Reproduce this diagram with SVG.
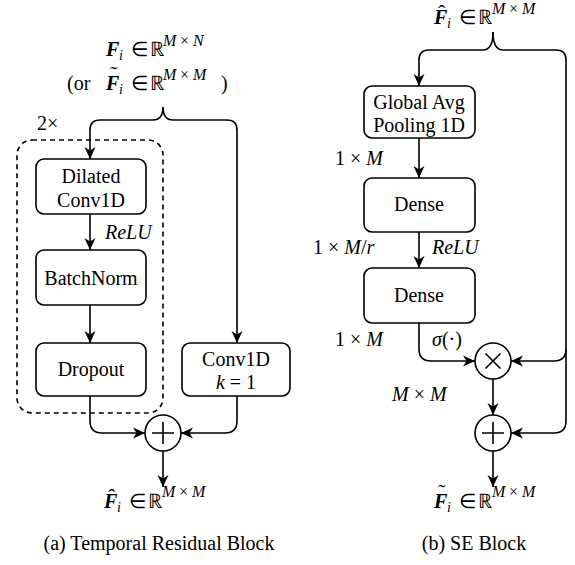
<svg xmlns="http://www.w3.org/2000/svg" width="575" height="565" viewBox="0 0 575 565">
<defs>
<marker id="ah" viewBox="0 0 12 12" refX="12" refY="6" markerWidth="12" markerHeight="12" markerUnits="userSpaceOnUse" orient="auto">
<path d="M0,0.5 L12,6 L0,11.5 L3.5,6 Z" fill="#000"/>
</marker>
</defs>
<style>
.box{fill:#fff;stroke:#000;stroke-width:1.6}
.ln{fill:none;stroke:#000;stroke-width:1.6}
.arr{fill:none;stroke:#000;stroke-width:1.6;marker-end:url(#ah)}
.dash{fill:none;stroke:#000;stroke-width:1.6;stroke-dasharray:5 4}
text{font-family:'Liberation Serif',serif;font-size:20px;fill:#000}
.c{text-anchor:middle}
.it{font-style:italic}
.bi{font-style:italic;font-weight:bold}
.sub{font-style:italic;font-size:14px}
.sup{font-size:16px}
.acc{font-size:22px}
</style>
<rect width="575" height="565" fill="#fff"/>

<g id="connectors">
<path class="arr" d="M163,107 Q163,120 153,120 L100,120 Q90,120 90,130 L90,159"/>
<path class="arr" d="M163,107 Q163,120 173,120 L227,120 Q237,120 237,130 L237,343"/>
<path class="arr" d="M90,214 L90,250"/>
<path class="arr" d="M90,305 L90,343"/>
<path class="arr" d="M90,396 L90,421 Q90,433 102,433 L145,433"/>
<path class="arr" d="M237,396 L237,421 Q237,433 225,433 L181,433"/>
<path class="arr" d="M163,451 L163,487"/>
<path class="arr" d="M493,32 Q493,50 483,50 L429,50 Q419,50 419,60 L419,86"/>
<path class="ln" d="M493,32 Q493,50 503,50 L556,50 Q566,50 566,60 L566,421"/>
<path class="arr" d="M566,349 Q566,361 554,361 L511,361"/>
<path class="arr" d="M566,421 Q566,433 554,433 L511,433"/>
<path class="arr" d="M419,138 L419,178"/>
<path class="arr" d="M419,232 L419,268"/>
<path class="arr" d="M419,323 L419,349 Q419,361 431,361 L475,361"/>
<path class="arr" d="M493,379 L493,415"/>
<path class="arr" d="M493,451 L493,487"/>
</g>

<g id="repeat-group">
<rect class="dash" x="17" y="140" width="146" height="273" rx="15"/>
<text x="37" y="130">2×</text>
</g>

<g id="input-left">
<text><tspan class="bi" x="106" y="56">F</tspan><tspan class="sub" x="119" y="60">i</tspan><tspan x="131" y="56">∈</tspan><tspan x="150" y="56">ℝ</tspan><tspan class="sup it" x="163" y="46">M</tspan><tspan class="sup" x="180" y="46">×</tspan><tspan class="sup it" x="193" y="46">N</tspan></text>
<text><tspan x="67" y="90">(or</tspan><tspan class="bi" x="106" y="90">F</tspan><tspan class="sub" x="119" y="94">i</tspan><tspan x="131" y="90">∈</tspan><tspan x="150" y="90">ℝ</tspan><tspan class="sup it" x="163" y="80">M</tspan><tspan class="sup" x="180" y="80">×</tspan><tspan class="sup it" x="193" y="80">M</tspan><tspan x="221" y="90">)</tspan></text>
<text class="acc" x="110" y="81">˜</text>
</g>

<g id="dilated-conv">
<rect class="box" x="36" y="159" width="110" height="55" rx="8"/>
<text class="c" x="91" y="183">Dilated</text>
<text class="c" x="91" y="207">Conv1D</text>
</g>
<text class="it" x="105" y="239">ReLU</text>

<g id="batchnorm">
<rect class="box" x="36" y="250" width="110" height="55" rx="8"/>
<text class="c" x="91" y="285">BatchNorm</text>
</g>

<g id="dropout">
<rect class="box" x="36" y="343" width="110" height="53" rx="8"/>
<text class="c" x="91" y="376">Dropout</text>
</g>

<g id="conv1d-k1">
<rect class="box" x="182" y="343" width="108" height="53" rx="8"/>
<text class="c" x="236" y="366">Conv1D</text>
<text class="c" x="236" y="389"><tspan class="it">k</tspan> = 1</text>
</g>

<g id="sum-left">
<circle class="box" cx="163" cy="433" r="18"/>
<path class="ln" d="M152,433 L174,433 M163,422 L163,444"/>
</g>

<g id="output-left">
<text><tspan class="bi" x="104" y="508">F</tspan><tspan class="sub" x="117" y="512">i</tspan><tspan x="129" y="508">∈</tspan><tspan x="148" y="508">ℝ</tspan><tspan class="sup it" x="162" y="497">M</tspan><tspan class="sup" x="179" y="497">×</tspan><tspan class="sup it" x="192" y="497">M</tspan></text>
<text class="acc" x="108" y="504">ˆ</text>
</g>

<text class="c" x="159" y="550">(a) Temporal Residual Block</text>

<g id="input-right">
<text><tspan class="bi" x="434" y="24">F</tspan><tspan class="sub" x="447" y="28">i</tspan><tspan x="459" y="24">∈</tspan><tspan x="478" y="24">ℝ</tspan><tspan class="sup it" x="492" y="14">M</tspan><tspan class="sup" x="509" y="14">×</tspan><tspan class="sup it" x="522" y="14">M</tspan></text>
<text class="acc" x="438" y="20">ˆ</text>
</g>

<g id="global-avg-pool">
<rect class="box" x="364" y="86" width="111" height="52" rx="8"/>
<text class="c" x="419" y="109">Global Avg</text>
<text class="c" x="419" y="132">Pooling 1D</text>
</g>
<text x="335" y="165">1 × <tspan class="it">M</tspan></text>

<g id="dense1">
<rect class="box" x="364" y="178" width="111" height="54" rx="8"/>
<text class="c" x="419" y="211">Dense</text>
</g>
<text x="313" y="254">1 × <tspan class="it">M</tspan>/<tspan class="it">r</tspan></text>
<text class="it" x="432" y="254">ReLU</text>

<g id="dense2">
<rect class="box" x="364" y="268" width="111" height="55" rx="8"/>
<text class="c" x="419" y="302">Dense</text>
</g>
<text x="335" y="346">1 × <tspan class="it">M</tspan></text>
<text x="432" y="346"><tspan class="it">σ</tspan>(·)</text>

<g id="mult">
<circle class="box" cx="493" cy="361" r="18"/>
<path class="ln" d="M485.5,353.5 L500.5,368.5 M500.5,353.5 L485.5,368.5"/>
</g>
<text x="392" y="401"><tspan class="it">M</tspan> × <tspan class="it">M</tspan></text>

<g id="sum-right">
<circle class="box" cx="493" cy="433" r="18"/>
<path class="ln" d="M482,433 L504,433 M493,422 L493,444"/>
</g>

<g id="output-right">
<text><tspan class="bi" x="434" y="508">F</tspan><tspan class="sub" x="447" y="512">i</tspan><tspan x="459" y="508">∈</tspan><tspan x="478" y="508">ℝ</tspan><tspan class="sup it" x="492" y="497">M</tspan><tspan class="sup" x="509" y="497">×</tspan><tspan class="sup it" x="522" y="497">M</tspan></text>
<text class="acc" x="438" y="499">˜</text>
</g>

<text class="c" x="474" y="550">(b) SE Block</text>
</svg>
